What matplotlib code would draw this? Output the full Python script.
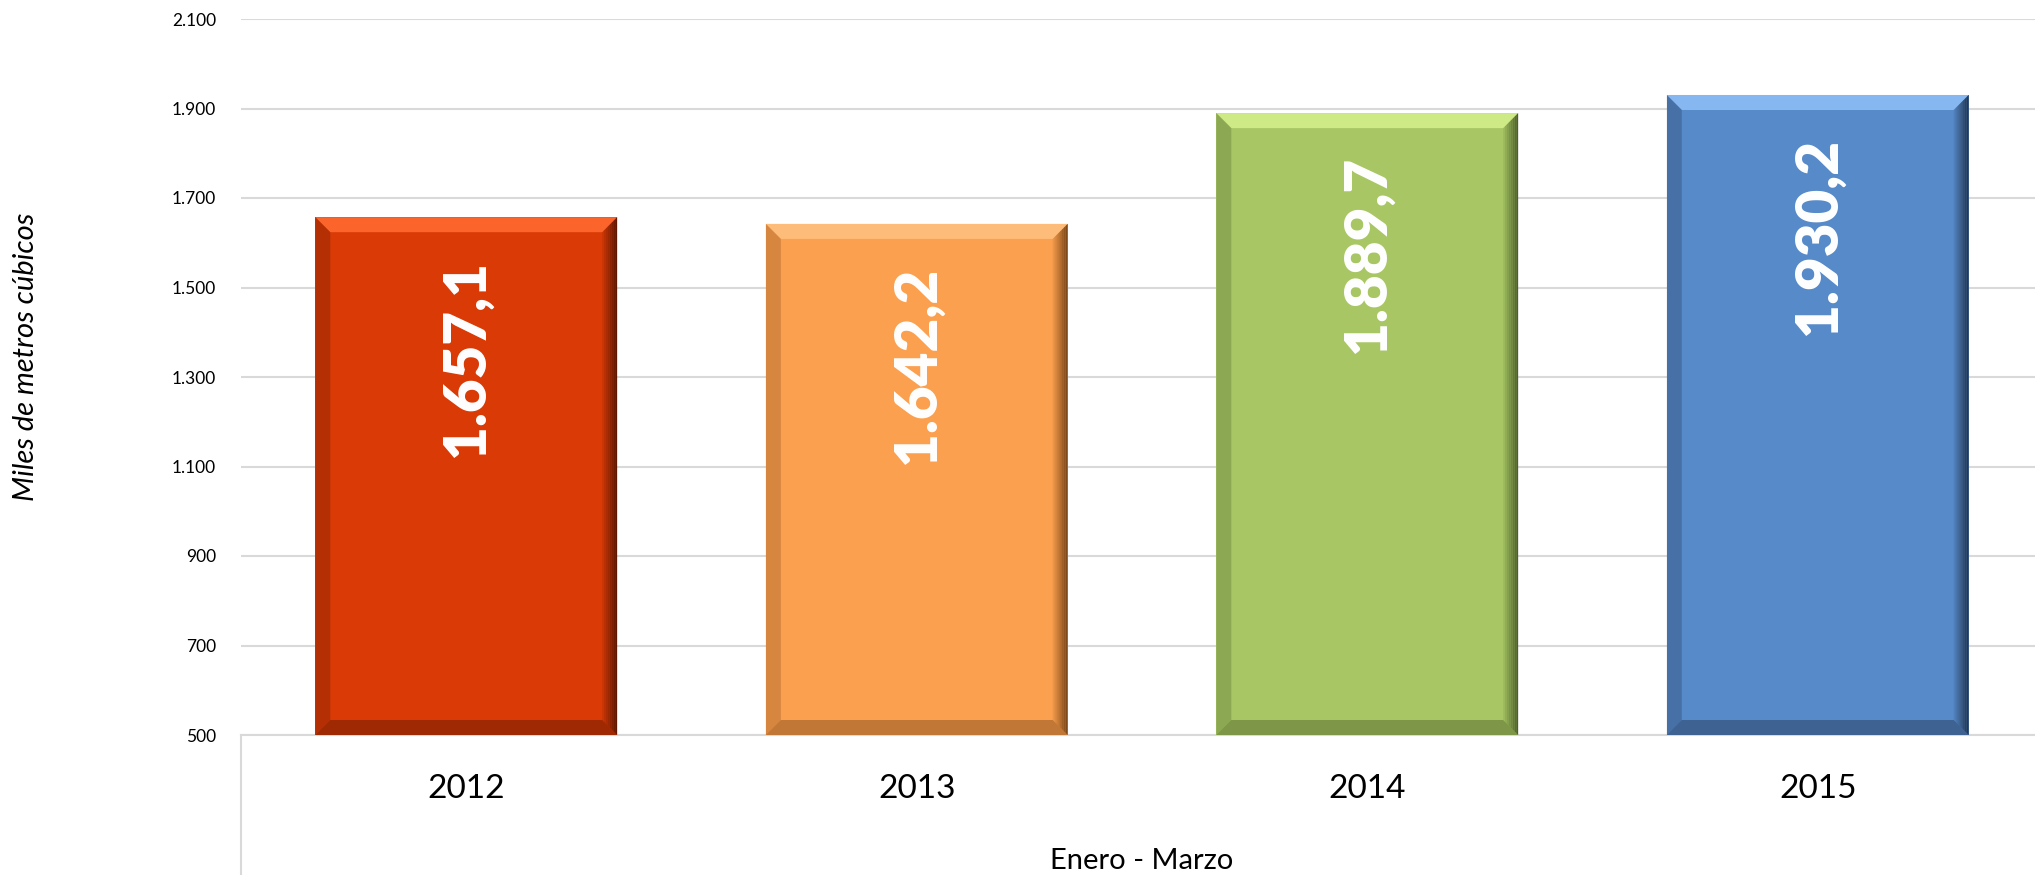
import matplotlib
matplotlib.use("Agg")
import matplotlib.pyplot as plt
from matplotlib.patches import Polygon
from matplotlib.lines import Line2D
import numpy as np

years = ["2012", "2013", "2014", "2015"]
values = [1657.1, 1642.2, 1889.7, 1930.2]
value_labels = ["1.657,1", "1.642,2", "1.889,7", "1.930,2"]
colors = ["#D93A06", "#FBA04F", "#A8C764", "#578AC9"]
light = ["#FF6A30", "#FFC080", "#D2EE8A", "#8CBDF5"]
dark = ["#4A1000", "#6A3A10", "#3E4E20", "#1A2A40"]
yticks = [500, 700, 900, 1100, 1300, 1500, 1700, 1900, 2100]
ytick_labels = ["500", "700", "900", "1.100", "1.300", "1.500", "1.700", "1.900", "2.100"]

plt.rcParams['font.family'] = ['Lato', 'DejaVu Sans']

W, H = 2035, 875
fig = plt.figure(figsize=(W / 100, H / 100), dpi=100)
ax = fig.add_axes([241 / W, 1 - 735 / H, 1802 / W, (735 - 19) / H])

x = np.arange(len(years))
bw = 0.67
bars = ax.bar(x, values, width=bw, color=colors, zorder=3, bottom=0)
ax.set_xlim(-0.5, 3.5)
ax.set_ylim(500, 2100)
ax.set_yticks(yticks)
ax.set_yticklabels(ytick_labels, fontsize=12.5)
ax.yaxis.grid(True, color="#D9D9D9", lw=1.5, zorder=0)
ax.tick_params(axis='y', length=0, pad=18)
ax.tick_params(axis='x', length=0, pad=28)
ax.set_xticks(x)
ax.set_xticklabels(years, fontsize=24)
for s in ["left", "right", "top"]:
    ax.spines[s].set_visible(False)
ax.spines["bottom"].set_color("#D9D9D9")
ax.spines["bottom"].set_linewidth(1.5)

ax.set_ylabel("Miles de metros cúbicos", fontsize=21, style="italic")
ax.yaxis.set_label_coords(-0.112, 0.528)
ax.set_xlabel("Enero - Marzo", fontsize=21, labelpad=32)

# vertical axis line below the plot (category area)
fig.add_artist(Line2D([241 / W, 241 / W], [0, 1 - 735 / H], color="#D9D9D9", lw=1.5,
                      transform=fig.transFigure))

# bevel effect derived from bar geometry
fig.canvas.draw()
px_x = ax.transData.transform((1, 0))[0] - ax.transData.transform((0, 0))[0]
px_y = ax.transData.transform((0, 1))[1] - ax.transData.transform((0, 0))[1]
bx = 15 / px_x
by = 15 / px_y
for i, b in enumerate(bars):
    x0 = b.get_x(); x1 = x0 + b.get_width()
    y0 = 500; y1 = b.get_height()
    # top light bevel
    ax.add_patch(Polygon([[x0, y1], [x1, y1], [x1 - bx, y1 - by], [x0 + bx, y1 - by]],
                         closed=True, facecolor=light[i], edgecolor="none", zorder=4, alpha=0.9))
    # bottom dark bevel
    ax.add_patch(Polygon([[x0, y0], [x1, y0], [x1 - bx, y0 + by], [x0 + bx, y0 + by]],
                         closed=True, facecolor=dark[i], edgecolor="none", zorder=4, alpha=0.4))
    # right dark gradient bevel
    n = 8
    for k in range(n):
        xa = x1 - bx * (k + 1) / n
        xb = x1 - bx * k / n
        ax.add_patch(Polygon([[xb, y1 - by * k / n], [xb, y0 + by * k / n],
                              [xa, y0 + by * (k + 1) / n], [xa, y1 - by * (k + 1) / n]],
                             closed=True, facecolor=dark[i], edgecolor="none", zorder=4,
                             alpha=0.85 * (1 - k / n)))
    # left darker bevel
    ax.add_patch(Polygon([[x0, y1], [x0, y0], [x0 + bx, y0 + by], [x0 + bx, y1 - by]],
                         closed=True, facecolor=dark[i], edgecolor="none", zorder=4, alpha=0.25))
    # value label
    ax.text(b.get_x() + b.get_width() / 2, y1 - 43 / px_y, value_labels[i], rotation=90,
            ha="center", va="top", color="white", fontsize=42, fontweight="heavy", zorder=5)

fig.savefig("out.png", dpi=100)
